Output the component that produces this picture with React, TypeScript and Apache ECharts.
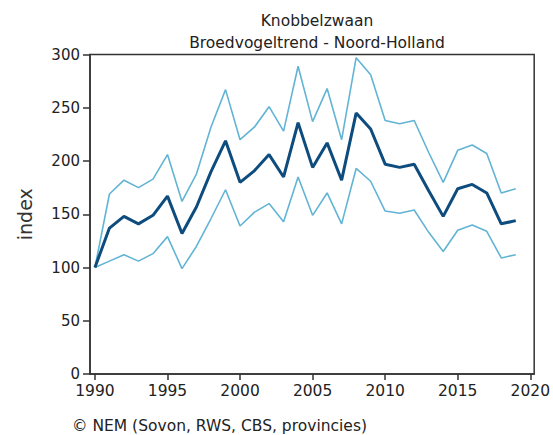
import React, { useEffect, useRef } from "react";
import * as echarts from "echarts";

const years = [1990,1991,1992,1993,1994,1995,1996,1997,1998,1999,2000,2001,2002,2003,2004,2005,2006,2007,2008,2009,2010,2011,2012,2013,2014,2015,2016,2017,2018,2019];
const trend = [100,137,148,141,149,167,132,157,190,219,180,191,206,185,236,194,217,182,245,230,197,194,197,172,148,174,178,170,141,144];
const upper = [100,169,182,175,183,206,162,188,232,267,220,232,251,228,289,237,268,220,297,281,238,235,238,208,180,210,215,207,170,174];
const lower = [100,106,112,106,113,129,99,120,146,173,139,152,160,143,185,149,170,141,193,181,153,151,154,133,115,135,140,134,109,112];
const xTicks = [1990,1995,2000,2005,2010,2015,2020];
const titleLines = ["Knobbelzwaan", "Broedvogeltrend - Noord-Holland"];
const yName = "index";
const footer = "\u00A9 NEM (Sovon, RWS, CBS, provincies)";

const FONT = "DejaVu Sans";

export default function App() {
  const ref = useRef<HTMLDivElement>(null);
  useEffect(() => {
    if (!ref.current) return;
    const chart = echarts.init(ref.current, null, { renderer: "svg" });
    const pair = (arr: number[]) => years.map((y, i) => [y, arr[i]]);
    chart.setOption({
      animation: false,
      backgroundColor: "#ffffff",
      title: {
        text: titleLines.join("\n"),
        left: 312,
        top: 5,
        textAlign: "center",
        textStyle: { fontFamily: FONT, fontSize: 15.5, fontWeight: "normal", color: "#222", lineHeight: 22 },
      },
      graphic: [
        {
          type: "text",
          left: 72,
          top: 418,
          style: { text: footer, fontFamily: FONT, fontSize: 15.5, fill: "#222" },
        },
      ],
      grid: {
        left: 90,
        right: 15,
        top: 54.5,
        bottom: 61,
        show: true,
        borderColor: "#333",
        borderWidth: 1.5,
        containLabel: false,
      },
      xAxis: {
        type: "value",
        min: 1989.66,
        max: 2020.27,
        axisLine: { show: true, lineStyle: { color: "#333", width: 1.5 } },
        axisTick: { show: true, customValues: xTicks, length: 6, lineStyle: { color: "#333", width: 1.5 } },
        axisLabel: { customValues: xTicks, fontFamily: FONT, fontSize: 15.5, color: "#222", margin: 9, formatter: (v: number) => String(Math.round(v)) },
        splitLine: { show: false },
      },
      yAxis: {
        type: "value",
        min: 0,
        max: 300,
        interval: 50,
        name: yName,
        nameLocation: "middle",
        nameGap: 56,
        nameRotate: 90,
        nameTextStyle: { fontFamily: FONT, fontSize: 19, color: "#333" },
        axisLine: { show: true, lineStyle: { color: "#333", width: 1.5 } },
        axisTick: { show: true, length: 7, lineStyle: { color: "#333", width: 1.5 } },
        axisLabel: { fontFamily: FONT, fontSize: 15, color: "#222", margin: 10 },
        splitLine: { show: false },
      },
      series: [
        { type: "line", data: pair(upper), showSymbol: false, lineStyle: { color: "#62b4d5", width: 1.6 }, z: 2 },
        { type: "line", data: pair(lower), showSymbol: false, lineStyle: { color: "#62b4d5", width: 1.6 }, z: 2 },
        { type: "line", data: pair(trend), showSymbol: false, lineStyle: { color: "#0e4c7e", width: 3 }, z: 3 },
      ],
    });
    return () => chart.dispose();
  }, []);
  return <div ref={ref} style={{ width: 553, height: 435, position: "absolute", left: 0, top: 0 }} />;
}
